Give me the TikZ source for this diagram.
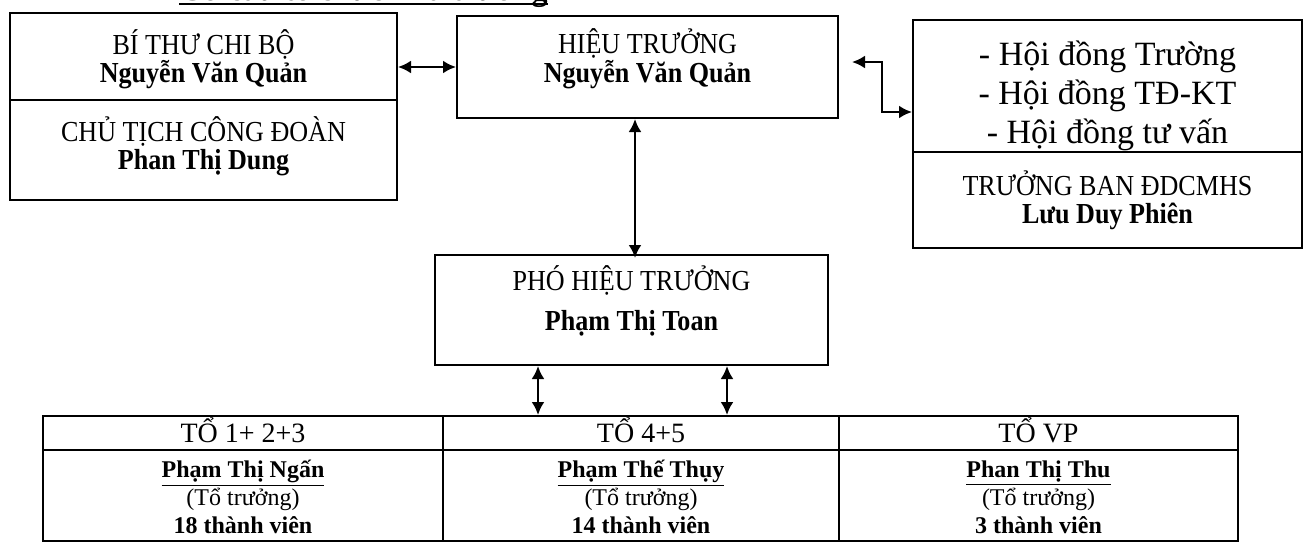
\documentclass[tikz,border=0pt]{standalone}
\usepackage{fontspec}
\setmainfont{Liberation Serif}
\newfontfamily\hepfont[FakeStretch=0.9]{Liberation Serif}
\usetikzlibrary{arrows.meta}
\setlength{\lineskiplimit}{-50pt}

\tikzset{
  khung/.style={draw, line width=1pt, inner sep=0pt},
  chu/.style={align=center, anchor=base, inner sep=0pt,
    font=\hepfont\fontsize{14.5}{14}\selectfont},
  hoidong/.style={align=center, anchor=base, inner sep=0pt,
    font=\fontsize{17}{19.5}\selectfont},
  cot/.style={anchor=base, inner sep=0pt, font=\fontsize{14}{16}\selectfont},
  thanhvien/.style={align=center, anchor=base, inner sep=0pt,
    font=\fontsize{12}{14}\selectfont},
  tieude/.style={inner sep=0pt, font=\bfseries\fontsize{16}{18}\selectfont},
  hai/.style={{Latex[length=6.5pt,width=6.5pt]}-{Latex[length=6.5pt,width=6.5pt]}, line width=1.2pt},
}

\begin{document}
\begin{tikzpicture}[x=0.5pt, y=-0.5pt]
  \useasboundingbox (0,0) rectangle (1308,546);

  % tieu de (bi cat o mep tren)
  \node[tieude, anchor=base east] (td) at (548,1) {Cơ cấu tổ chức nhà trường};
  \draw[line width=1pt] ([yshift=-1.5pt]td.base west) -- ([yshift=-1.5pt]td.base east);

  % cac khung phia tren
  \node[khung, minimum width=193.5pt, minimum height=43.5pt] (bt) at (203.5,56.5) {};
  \node[khung, minimum width=193.5pt, minimum height=50pt] (cd) at (203.5,150) {};
  \node[khung, minimum width=190.5pt, minimum height=51pt] (ht) at (647.5,67) {};
  \node[khung, minimum width=194.5pt, minimum height=66pt] (hd) at (1107.5,86) {};
  \node[khung, minimum width=194.5pt, minimum height=48pt] (bdd) at (1107.5,200) {};
  \node[khung, minimum width=196.5pt, minimum height=55pt] (pht) at (631.5,310) {};

  % chu trong khung (dat theo dong cuoi)
  \node[chu] (bt-t) at (203.5,83) {BÍ THƯ CHI BỘ\\\textbf{Nguyễn Văn Quản}};
  \node[chu] (cd-t) at (203.5,169) {CHỦ TỊCH CÔNG ĐOÀN\\\textbf{Phan Thị Dung}};
  \node[chu] (ht-t) at (647.5,83) {HIỆU TRƯỞNG\\[0.5pt]\textbf{Nguyễn Văn Quản}};
  \node[hoidong] (hd-t) at (1107.5,143) {- Hội đồng Trường\\- Hội đồng TĐ-KT\\- Hội đồng tư vấn};
  \node[chu] (bdd-t) at (1107.5,223) {TRƯỞNG BAN ĐDCMHS\\\textbf{Lưu Duy Phiên}};
  \node[chu] (pht-t) at (631.5,330) {PHÓ HIỆU TRƯỞNG\\[6pt]\textbf{Phạm Thị Toan}};

  % bang cac to
  \foreach \n/\x/\w/\ten/\tr/\sl in {1/243/200/{TỔ 1+ 2+3}/{Phạm Thị Ngấn}/18,
      2/641/198/{TỔ 4+5}/{Phạm Thế Thụy}/14, 3/1038.5/199.5/{TỔ VP}/{Phan Thị Thu}/3} {
    \node[khung, minimum width=\w pt, minimum height=17pt] (t\n) at (\x,433) {};
    \node[khung, minimum width=\w pt, minimum height=45.5pt] (b\n) at (\x,495.5) {};
    \node[cot] (t\n-t) at (\x,442) {\ten};
    \node[thanhvien] (b\n-t) at (\x,533) {\textbf{\underline{\tr}}\\(Tổ trưởng)\\\textbf{\sl\ thành viên}};
  }

  % cac mui ten
  \coordinate (htp) at (852,62);
  \draw[hai] (bt.east |- ht.west) -- (ht.west);
  \draw[hai] (ht.south -| 635,0) -- ([yshift=-2pt]pht.north -| 635,0);
  \draw[hai] (htp) -- (882,62) -- (882,112) -- (hd.west |- 0,112);
  \draw[hai] (pht.south -| 538,0) -- (t2.north -| 538,0);
  \draw[hai] (pht.south -| 727,0) -- (t2.north -| 727,0);
\end{tikzpicture}
\end{document}
